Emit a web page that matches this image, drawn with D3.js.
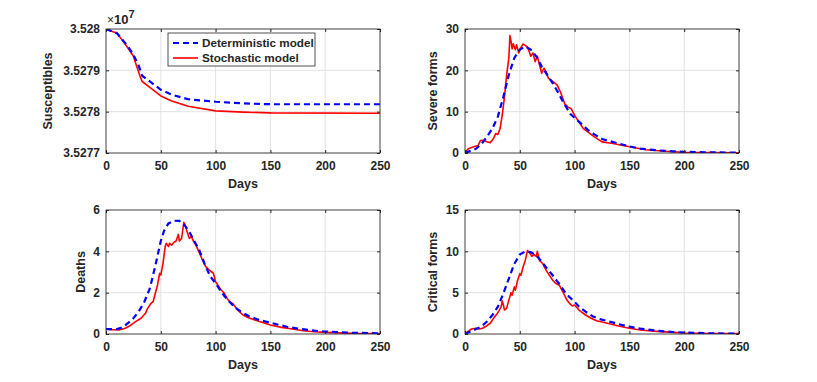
<!DOCTYPE html>
<html>
<head>
<meta charset="utf-8">
<script src="https://cdn.jsdelivr.net/npm/d3@7"></script>
<style>
    body { margin: 0; background: #fff; }
    svg text { font-family: "Liberation Sans", Arial, sans-serif; font-weight: bold; fill: #262626; }
</style>
</head>
<body>
<div id="chart"></div>
<script>
// ---- data ----
let xTicks = [0, 50, 100, 150, 200, 250];

let susTicks = [35277000, 35278000, 35279000, 35280000];
let susDet = [[0,35280000],[10,35279900],[20,35279580],[25,35279380],[30,35279100],[33,35278870],[40,35278730],[50,35278530],[60,35278410],[75,35278300],[100,35278240],[125,35278200],[150,35278180],[250,35278180]];
let susSto = [[0,35280000],[10,35279900],[20,35279540],[25,35279340],[28,35279100],[31,35278860],[33,35278730],[40,35278590],[50,35278380],[60,35278260],[75,35278130],[100,35278020],[125,35277990],[150,35277970],[250,35277960]];

let sevTicks = [0, 10, 20, 30];
let sevDet = [[0,0],[10,1.0],[15,2.2],[20,3.9],[25,5.9],[30,8.8],[35,13.6],[40,18.9],[45,23],[50,25],[55,25.8],[60,25],[65,23.4],[70,20.9],[75,18.9],[80,16.9],[85,14.6],[90,12.1],[96,9.5],[100,8.5],[106,7.1],[112,5.6],[118,4.5],[125,3.4],[133,2.8],[140,2.3],[150,1.6],[160,1.05],[175,0.65],[190,0.4],[200,0.3],[225,0.15],[250,0.1]];
let sevSto = [[0,0.2],[3,1],[8,1.5],[12,1.8],[14,3.0],[17,3.1],[20,2.7],[23,2.5],[26,3.5],[28,4.7],[30,4.5],[32,5.9],[34,9.2],[36,13.6],[38,18.9],[40,23],[41,28.4],[42,27],[43,25.2],[44,26.4],[46,25],[47,26.2],[49,24.2],[51,25.5],[53,26.4],[56,25.8],[58,25],[60,23.4],[62,24.2],[64,22.1],[66,23.4],[68,21.3],[70,19.3],[72,20.5],[74,19.7],[76,18.1],[80,17.3],[84,16.5],[87,14.8],[91,11.9],[94,11.1],[97,10.7],[100,9.1],[104,7.5],[108,5.9],[112,5.1],[118,3.9],[125,2.7],[135,2.3],[150,1.5],[165,0.8],[180,0.5],[190,0.3],[200,0.15],[250,0.05]];

let deaTicks = [0, 2, 4, 6];
let deaDet = [[0,0.24],[10,0.24],[15,0.32],[20,0.52],[25,0.76],[30,1.1],[35,1.56],[40,2.2],[45,3.3],[50,4.5],[53,5.0],[57,5.35],[62,5.48],[67,5.47],[72,5.24],[76,4.95],[80,4.55],[85,4.08],[90,3.39],[95,2.8],[100,2.45],[104,2.13],[108,1.84],[112,1.6],[117,1.32],[123,1.08],[130,0.87],[138,0.71],[145,0.61],[155,0.48],[165,0.35],[175,0.26],[190,0.16],[200,0.12],[225,0.06],[250,0.03]];
let deaSto = [[0,0.24],[5,0.21],[12,0.2],[17,0.27],[22,0.4],[27,0.6],[32,0.76],[36,1.0],[38,1.24],[41,1.48],[43,1.56],[45,1.97],[47,2.37],[49,2.94],[50,2.85],[52,3.42],[54,4.23],[55,4.39],[57,4.23],[58,4.39],[60,4.3],[62,4.44],[64,4.5],[66,4.82],[67,4.5],[69,4.63],[71,5.4],[72,5.3],[74,4.95],[76,4.63],[78,4.71],[80,4.47],[82,4.3],[85,3.95],[88,3.58],[91,3.26],[95,3.06],[98,2.94],[100,2.53],[103,2.29],[105,2.13],[108,1.97],[111,1.68],[113,1.56],[116,1.45],[120,1.16],[125,0.92],[130,0.79],[140,0.6],[150,0.44],[160,0.32],[170,0.24],[180,0.16],[190,0.11],[200,0.08],[225,0.03],[250,0.02]];

let criTicks = [0, 5, 10, 15];
let criDet = [[0,0],[10,0.6],[15,0.9],[20,1.5],[25,2.3],[30,3.3],[35,4.9],[40,6.7],[45,8.5],[50,9.6],[55,10.0],[60,9.9],[65,9.5],[70,8.75],[75,7.9],[80,7.1],[84,6.4],[87,5.9],[91,5.1],[95,4.5],[100,3.9],[104,3.3],[110,2.7],[117,2.1],[124,1.77],[132,1.5],[140,1.2],[150,0.89],[160,0.65],[175,0.4],[190,0.24],[200,0.18],[225,0.08],[250,0.04]];
let criSto = [[0,0.05],[3,0.35],[6,0.6],[10,0.7],[13,0.6],[16,0.7],[20,1.0],[23,1.3],[25,1.7],[27,2.1],[29,2.4],[31,2.8],[33,3.3],[34,4.0],[35,3.5],[36,2.9],[38,3.1],[40,4.1],[42,5.0],[43,4.7],[45,5.7],[46,5.3],[48,6.5],[50,7.3],[51,7.1],[53,8.1],[55,8.9],[57,10.1],[59,9.8],[61,9.4],[63,9.6],[65,9.4],[66,10.0],[68,8.9],[71,8.5],[74,7.7],[77,7.1],[80,6.5],[83,6.1],[86,5.9],[90,4.9],[93,4.1],[96,3.6],[98,3.4],[100,3.5],[104,2.9],[110,2.3],[115,1.9],[120,1.6],[130,1.3],[140,0.97],[150,0.69],[160,0.48],[175,0.32],[190,0.2],[200,0.12],[225,0.06],[250,0.04]];

let legendLabels = ["Deterministic model", "Stochastic model"];

// ---- layout ----
let width = 817, height = 382;
let svg = d3.select("#chart").append("svg")
    .attr("width", width)
    .attr("height", height);

let panels = [
    {label: "Susceptibles", left: 106, right: 380, top: 29, bottom: 153, yDomain: [35277000, 35280000], yTicks: susTicks, det: susDet, sto: susSto, fmt: d => d3.format(".5~r")(d / 1e7), legend: true, exponent: true},
    {label: "Severe forms", left: 465, right: 739, top: 29, bottom: 153, yDomain: [0, 30], yTicks: sevTicks, det: sevDet, sto: sevSto, fmt: d3.format("d")},
    {label: "Deaths", left: 106, right: 380, top: 210, bottom: 334, yDomain: [0, 6], yTicks: deaTicks, det: deaDet, sto: deaSto, fmt: d3.format("d")},
    {label: "Critical forms", left: 465, right: 739, top: 210, bottom: 334, yDomain: [0, 15], yTicks: criTicks, det: criDet, sto: criSto, fmt: d3.format("d")}
];

let axisColor = "#262626";

panels.forEach((p, i) => {
    let w = p.right - p.left, h = p.bottom - p.top;
    let g = svg.append("g").attr("transform", `translate(${p.left},${p.top})`);

    let x = d3.scaleLinear().domain([0, 250]).range([0, w]);
    let y = d3.scaleLinear().domain(p.yDomain).range([h, 0]);

    // background
    g.append("rect").attr("width", w).attr("height", h).attr("fill", "#fff");

    // grid
    g.append("g").selectAll("line").data(xTicks).join("line")
        .attr("x1", d => x(d)).attr("x2", d => x(d))
        .attr("y1", 0).attr("y2", h)
        .attr("stroke", "#e3e3e3").attr("stroke-width", 1);
    g.append("g").selectAll("line").data(p.yTicks).join("line")
        .attr("y1", d => y(d)).attr("y2", d => y(d))
        .attr("x1", 0).attr("x2", w)
        .attr("stroke", "#e3e3e3").attr("stroke-width", 1);

    // clip
    let clipId = "clip" + i;
    g.append("clipPath").attr("id", clipId)
        .append("rect").attr("width", w).attr("height", h);

    let line = d3.line().x(d => x(d[0])).y(d => y(d[1]));

    let lines = g.append("g").attr("clip-path", `url(#${clipId})`);
    lines.append("path").datum(p.sto)
        .attr("d", line).attr("fill", "none")
        .attr("stroke", "#ff0000").attr("stroke-width", 1.6)
        .attr("stroke-linejoin", "round");
    lines.append("path").datum(p.det)
        .attr("d", line).attr("fill", "none")
        .attr("stroke", "#0000ff").attr("stroke-width", 2.2)
        .attr("stroke-dasharray", "6,4");

    // axes (ticks inside, mirrored)
    let xAxis = g.append("g").attr("transform", `translate(0,${h})`)
        .call(d3.axisBottom(x).tickValues(xTicks).tickSizeInner(-3).tickSizeOuter(0).tickPadding(8));
    let xTop = g.append("g")
        .call(d3.axisTop(x).tickValues(xTicks).tickSizeInner(-3).tickSizeOuter(0).tickFormat(""));
    let yAxis = g.append("g")
        .call(d3.axisLeft(y).tickValues(p.yTicks).tickSizeInner(-3).tickSizeOuter(0).tickPadding(6).tickFormat(p.fmt));
    let yRight = g.append("g").attr("transform", `translate(${w},0)`)
        .call(d3.axisRight(y).tickValues(p.yTicks).tickSizeInner(-3).tickSizeOuter(0).tickFormat(""));

    [xAxis, xTop, yAxis, yRight].forEach(a => {
        a.select(".domain").remove();
        a.selectAll("line").attr("stroke", axisColor);
        a.selectAll("text").attr("font-size", "12px").attr("fill", axisColor)
            .attr("font-family", "'Liberation Sans', Arial, sans-serif").attr("font-weight", "bold");
    });

    // box
    g.append("rect").attr("width", w).attr("height", h)
        .attr("fill", "none").attr("stroke", axisColor).attr("stroke-width", 0.8);

    // labels
    g.append("text").text("Days")
        .attr("x", w / 2).attr("y", h + 35)
        .attr("text-anchor", "middle").attr("font-size", "12.5px");
    let lx = (i % 2 === 0) ? (i === 0 ? -54 : -21) : -28;
    g.append("text").text(p.label)
        .attr("transform", `translate(${lx},${h / 2}) rotate(-90)`)
        .attr("text-anchor", "middle").attr("font-size", "12.5px");

    if (p.exponent) {
        let t = g.append("text").attr("x", 1).attr("y", -5).attr("font-size", "13px");
        t.append("tspan").text("×").attr("font-weight", "normal").attr("font-size", "12px");
        t.append("tspan").text("10");
        t.append("tspan").text("7").attr("dy", -6).attr("font-size", "11px");
    }

    if (p.legend) {
        let lg = g.append("g").attr("transform", `translate(${168 - p.left},${33 - p.top})`);
        lg.append("rect").attr("width", 147).attr("height", 33)
            .attr("fill", "#fff").attr("stroke", axisColor).attr("stroke-width", 0.8);
        let styles = [
            {color: "#0000ff", dash: "6,4", sw: 2.2},
            {color: "#ff0000", dash: null, sw: 1.6}
        ];
        legendLabels.forEach((name, k) => {
            let yy = 10 + k * 15;
            lg.append("line").attr("x1", 5).attr("x2", 30).attr("y1", yy).attr("y2", yy)
                .attr("stroke", styles[k].color).attr("stroke-width", styles[k].sw)
                .attr("stroke-dasharray", styles[k].dash);
            lg.append("text").text(name).attr("x", 34).attr("y", yy + 4)
                .attr("font-size", "11.7px");
        });
    }
});
</script>
</body>
</html>
